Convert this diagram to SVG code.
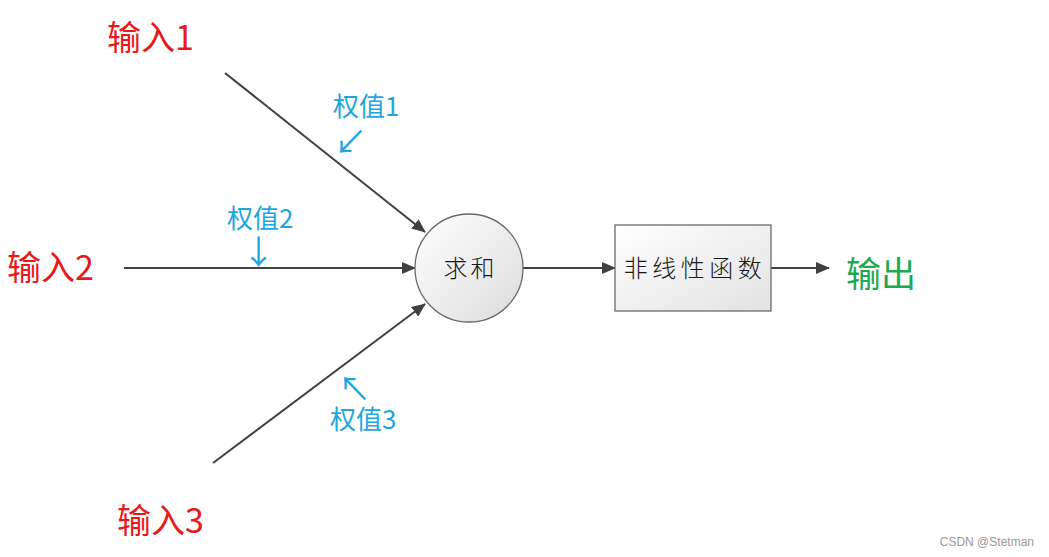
<svg xmlns="http://www.w3.org/2000/svg" width="1049" height="557" viewBox="0 0 1049 557">
<style>
.cjk{font-family:"Noto Sans CJK SC","Noto Sans",sans-serif}
.in{fill:#e8191b;font-size:34px}
.w{fill:#1ea6e0;font-size:26px}
.ar{font-size:33px}
.out{fill:#1ea84f;font-size:35px}
.lbl{fill:#1a1a1a;font-size:24px;font-weight:300}
.conn{stroke:#404040;stroke-width:2;fill:none}
</style>
<defs>
<marker id="ah" markerWidth="14" markerHeight="12" refX="13" refY="6" orient="auto" markerUnits="userSpaceOnUse">
<path d="M0,0 L14,6 L0,12 Z" fill="#404040"/>
</marker>
<linearGradient id="gc" x1="0" y1="0" x2="1" y2="1">
<stop offset="0" stop-color="#ffffff"/>
<stop offset="1" stop-color="#dcdcdc"/>
</linearGradient>
<linearGradient id="gr" x1="0" y1="0" x2="1" y2="1">
<stop offset="0" stop-color="#ffffff"/>
<stop offset="1" stop-color="#e2e2e2"/>
</linearGradient>
</defs>
<rect width="1049" height="557" fill="#fff"/>
<g id="connectors">
<line class="conn" x1="225" y1="73" x2="425" y2="232" marker-end="url(#ah)"/>
<line class="conn" x1="124" y1="268" x2="415" y2="268" marker-end="url(#ah)"/>
<line class="conn" x1="213" y1="463" x2="425" y2="304" marker-end="url(#ah)"/>
<line class="conn" x1="523" y1="268" x2="615" y2="268" marker-end="url(#ah)"/>
<line class="conn" x1="771" y1="268" x2="829" y2="268" marker-end="url(#ah)"/>
</g>
<g id="sum">
<circle cx="469" cy="268" r="54" fill="url(#gc)" stroke="#6a6a6a" stroke-width="1.3"/>
<text class="cjk lbl" x="470.5" y="277" text-anchor="middle" letter-spacing="3" font-size="23">求和</text>
</g>
<g id="nonlinear">
<rect x="615" y="225" width="156" height="86" fill="url(#gr)" stroke="#6a6a6a" stroke-width="1.3"/>
<text class="cjk lbl" x="695" y="277" text-anchor="middle" letter-spacing="4.5">非线性函数</text>
</g>
<g id="input1"><text class="cjk in" x="107" y="50">输入1</text></g>
<g id="input2"><text class="cjk in" x="7" y="280">输入2</text></g>
<g id="input3"><text class="cjk in" x="117" y="533">输入3</text></g>
<g id="output"><text class="cjk out" x="846" y="287">输出</text></g>
<g id="weight1"><text class="cjk w" x="333" y="116">权值1<tspan class="ar" x="334" y="154">↙</tspan></text></g>
<g id="weight2"><text class="cjk w" x="227" y="228">权值2<tspan class="ar" x="242" y="264">↓</tspan></text></g>
<g id="weight3"><text class="cjk w" x="338" y="401"><tspan class="ar">↖</tspan><tspan x="330" y="429">权值3</tspan></text></g>
<text x="1034" y="546" text-anchor="end" font-family="Liberation Sans,sans-serif" font-size="12" fill="#999">CSDN @Stetman</text>
</svg>
